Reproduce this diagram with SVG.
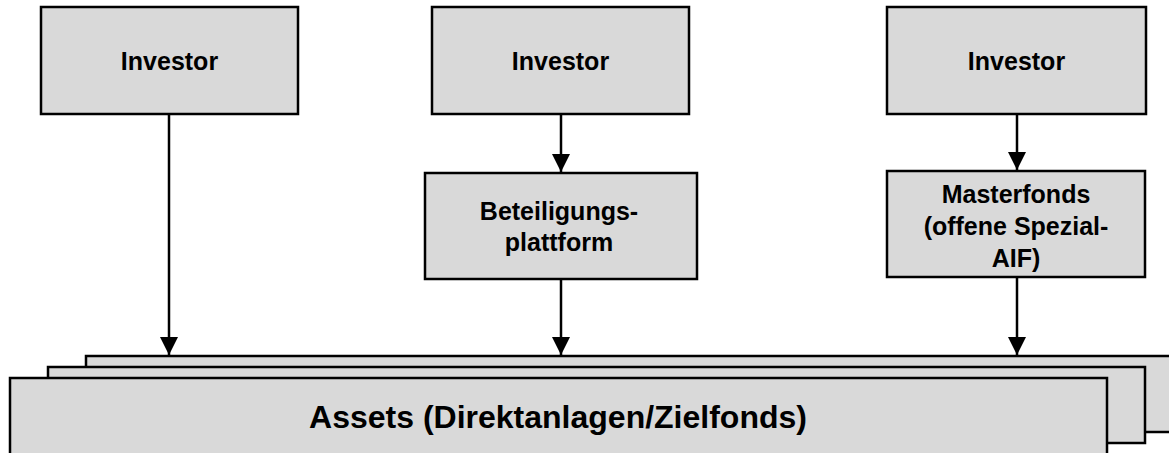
<svg xmlns="http://www.w3.org/2000/svg" width="1169" height="453" viewBox="0 0 1169 453">
<defs>
<style>
.box{fill:#d9d9d9;stroke:#000;stroke-width:2.5}
.t{font-family:"Liberation Sans",Arial,sans-serif;font-weight:bold;font-size:25px;fill:#000;text-anchor:middle}
.big{font-size:32px}
.c{stroke:#000;stroke-width:2.5;fill:none;marker-end:url(#ah)}
</style>
<marker id="ah" markerUnits="userSpaceOnUse" markerWidth="18" markerHeight="18" refX="17" refY="8.5" orient="auto" viewBox="0 0 17 17">
<path d="M0,0 L17,8.5 L0,17 Z" fill="#000"/>
</marker>
</defs>
<rect width="1169" height="453" fill="#fff"/>
<g id="assets-stack">
<rect class="box" x="86" y="356" width="1090" height="76"/>
<rect class="box" x="48" y="367" width="1097" height="76"/>
</g>
<g id="assets">
<rect class="box" x="10" y="378" width="1097" height="80"/>
<text class="t big" x="558" y="428">Assets (Direktanlagen/Zielfonds)</text>
</g>
<g id="investor1">
<rect class="box" x="41" y="7" width="257" height="107"/>
<text class="t" x="169.5" y="70">Investor</text>
</g>
<g id="investor2">
<rect class="box" x="432" y="7" width="257" height="107"/>
<text class="t" x="560.5" y="70">Investor</text>
</g>
<g id="investor3">
<rect class="box" x="887" y="7" width="259" height="107"/>
<text class="t" x="1016.5" y="70">Investor</text>
</g>
<g id="beteiligungsplattform">
<rect class="box" x="425" y="173" width="272" height="106"/>
<text class="t" x="559" y="220">Beteiligungs-</text>
<text class="t" x="559" y="251">plattform</text>
</g>
<g id="masterfonds">
<rect class="box" x="887" y="171" width="258" height="106"/>
<text class="t" x="1016" y="203">Masterfonds</text>
<text class="t" x="1016" y="235">(offene Spezial-</text>
<text class="t" x="1016" y="267">AIF)</text>
</g>
<g id="connectors">
<path class="c" d="M169,114 V355"/>
<path class="c" d="M561,114 V172"/>
<path class="c" d="M561,279 V355"/>
<path class="c" d="M1017,114 V170"/>
<path class="c" d="M1017,277 V355"/>
</g>
</svg>
